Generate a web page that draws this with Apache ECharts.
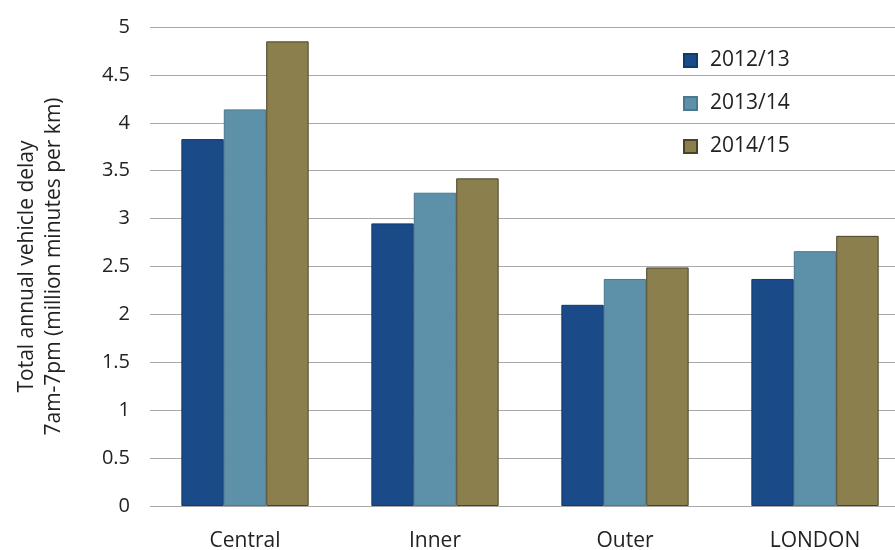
<!DOCTYPE html>
<html><head><meta charset="utf-8">
<script src="https://cdn.jsdelivr.net/npm/echarts@6/dist/echarts.min.js"></script>
<style>html,body{margin:0;padding:0;background:#fff}#c{width:895px;height:550px}</style>
</head><body><div id="c"></div>
<script>
var categories = ['Central', 'Inner', 'Outer', 'LONDON'];
var seriesNames = ['2012/13', '2013/14', '2014/15'];
var values2012 = [3.83, 2.95, 2.10, 2.37];
var values2013 = [4.14, 3.27, 2.37, 2.66];
var values2014 = [4.85, 3.42, 2.49, 2.82];
var yTicks = [0, 0.5, 1, 1.5, 2, 2.5, 3, 3.5, 4, 4.5, 5];
var colors = ['#1a4a88', '#5d91aa', '#8b7f4e'];
var borders = ['#12396c', '#4a7890', '#4a4328'];
var font = 'Open Sans';
var chart = echarts.init(document.getElementById('c'));
var data = [values2012, values2013, values2014];
chart.setOption({
  animation: false,
  textStyle: {fontFamily: font},
  grid: {left: 150, top: 27, width: 760, height: 479, outerBoundsMode: 'none', containLabel: false},
  legend: {
    orient: 'vertical', left: 678, top: 45, itemGap: 22,
    itemWidth: 13, itemHeight: 13, icon: 'rect',
    textStyle: {fontSize: 21, color: '#222', fontFamily: font, padding: [0, 0, 0, 8]},
    data: seriesNames
  },
  xAxis: {
    type: 'category', data: categories,
    axisLine: {show: false}, axisTick: {show: false},
    axisLabel: {fontSize: 21, color: '#222', margin: 25}
  },
  yAxis: {
    type: 'value', min: yTicks[0], max: yTicks[yTicks.length - 1], interval: 0.5,
    name: 'Total annual vehicle delay\n7am-7pm (million minutes per km)',
    nameLocation: 'middle', nameRotate: 90, nameGap: 82,
    nameTextStyle: {fontSize: 21, color: '#222', lineHeight: 27},
    axisLine: {show: false}, axisTick: {show: false},
    axisLabel: {fontSize: 20, color: '#222', margin: 20},
    splitLine: {lineStyle: {color: '#a8a8a8', width: 1}}
  },
  series: seriesNames.map(function (n, i) {
    return {
      name: n, type: 'bar', data: data[i],
      barGap: '0%', barCategoryGap: '33%',
      itemStyle: {color: colors[i], borderColor: borders[i], borderWidth: 1}
    };
  })
});
</script></body></html>
